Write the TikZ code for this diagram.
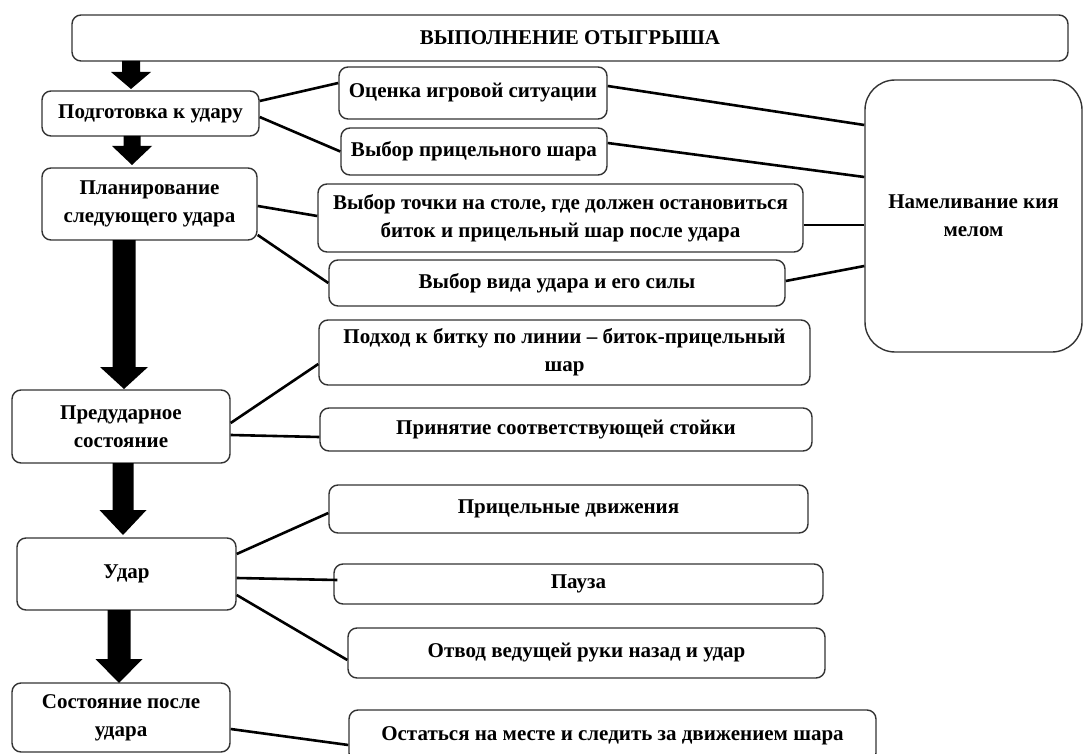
\documentclass[tikz,border=0pt]{standalone}
\usepackage{fontspec}
\setmainfont{Liberation Serif}
\usetikzlibrary{calc}
\newcommand\fatarrow[6]{%
  \fill[black] (#1-#4,#2) -- (#1+#4,#2) -- (#1+#4,#6) -- (#1+#5,#6) -- (#1,#3) -- (#1-#5,#6) -- (#1-#4,#6) -- cycle;}
\begin{document}
\begin{tikzpicture}[x=1pt,y=-1pt,
  bx/.style={draw=black!80, line width=1.4pt, rounded corners=9pt, fill=white, align=center,
    font=\bfseries\fontsize{21}{28}\selectfont, inner sep=0pt},
  con/.style={draw=black, line width=2.6pt}]
\useasboundingbox (0,0) rectangle (1084,754);
\clip (0,0) rectangle (1084,754);
% left column
\node[bx, minimum width=996pt, minimum height=46pt] (top) at (570,38) {ВЫПОЛНЕНИЕ ОТЫГРЫША};
\node[bx, minimum width=217pt, minimum height=45pt] (prep) at (150.5,113.5) {Подготовка к удару};
\node[bx, minimum width=215pt, minimum height=72pt] (plan) at (149.5,204) {Планирование\\следующего удара};
\node[bx, minimum width=218pt, minimum height=73pt] (pred) at (121,426.5) {Предударное\\состояние};
\node[bx, minimum width=219pt, minimum height=72pt] (udar) at (126.5,574) {Удар};
\node[bx, minimum width=218pt, minimum height=69pt] (sost) at (121,717.5) {Состояние после\\удара};
% right column
\node[bx, minimum width=268pt, minimum height=52pt] (ocenka) at (473,93) {Оценка игровой ситуации};
\node[bx, minimum width=266pt, minimum height=47pt] (vybor) at (474,151.5) {Выбор прицельного шара};
\node[bx, minimum width=485pt, minimum height=68pt] (tochka) at (560.5,218) {Выбор точки на столе, где должен остановиться\\биток и прицельный шар после удара};
\node[bx, minimum width=456pt, minimum height=46pt] (vid) at (557,283) {Выбор вида удара и его силы};
\node[bx, minimum width=217pt, minimum height=272pt, rounded corners=30pt] (big) at (973.5,216) {Намеливание кия\\мелом};
\node[bx, minimum width=491pt, minimum height=65pt] (podhod) at (564.5,352.5) {Подход к битку по линии – биток-прицельный\\шар};
\node[bx, minimum width=492pt, minimum height=43pt] (prin) at (566,429.5) {Принятие соответствующей стойки};
\node[bx, minimum width=479pt, minimum height=48pt] (pric) at (568.5,509) {Прицельные движения};
\node[bx, minimum width=489pt, minimum height=40pt] (pauza) at (578.5,584) {Пауза};
\node[bx, minimum width=477pt, minimum height=50pt] (otvod) at (586.5,653) {Отвод ведущей руки назад и удар};
\node[bx, minimum width=527pt, minimum height=52pt] (ost) at (612.5,736) {Остаться на месте и следить за движением шара};
% fat arrows
\fatarrow{131}{61}{89}{9}{20}{72}
\fatarrow{132}{136}{165}{8.5}{20}{146}
\fatarrow{124}{240}{389}{11.5}{24}{367}
\fatarrow{123}{463}{535}{10.5}{23.5}{510}
\fatarrow{119}{610}{683}{11.5}{23.5}{659}
% connectors
\draw[con] ([yshift=12.5pt]prep.east) -- ([yshift=10pt]ocenka.west);
\draw[con] ([yshift=-3.5pt]prep.east) -- (vybor.west);
\draw[con] ([yshift=7pt]ocenka.east) -- ([yshift=91pt]big.west);
\draw[con] ([yshift=8.5pt]vybor.east) -- ([yshift=39pt]big.west);
\draw[con] ([yshift=-2pt]plan.east) -- ([yshift=2pt]tochka.west);
\draw[con] ([yshift=-31pt]plan.east) -- (vid.west);
\draw[con] ([yshift=-7pt]tochka.east) -- ([yshift=-9pt]big.west);
\draw[con] ([yshift=2pt]vid.east) -- ([yshift=-50pt]big.west);
\draw[con] ([yshift=3.5pt]pred.east) -- ([yshift=-11.5pt]podhod.west);
\draw[con] ([yshift=-8.5pt]pred.east) -- ([yshift=-7.5pt]prin.west);
\draw[con] ([yshift=20pt]udar.east) -- ([yshift=-4pt]pric.west);
\draw[con] ([yshift=-4pt]udar.east) -- ([xshift=4pt,yshift=4pt]pauza.west);
\draw[con] ([yshift=-21pt]udar.east) -- ([yshift=-7pt]otvod.west);
\draw[con] ([yshift=-11.5pt]sost.east) -- ([yshift=-9pt]ost.west);
\end{tikzpicture}
\end{document}
